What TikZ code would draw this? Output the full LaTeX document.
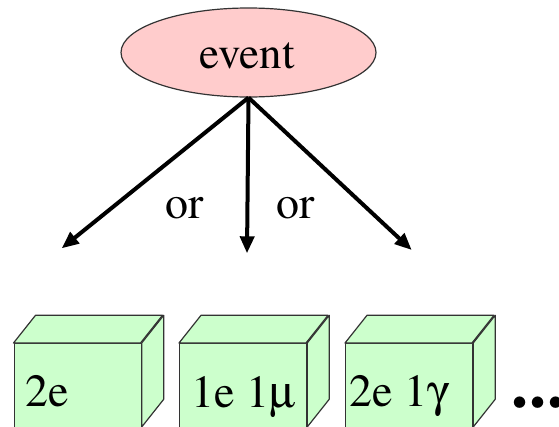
\documentclass[tikz,border=0pt]{standalone}
\usepackage[T1]{fontenc}
\usepackage{mathptmx}
\usepackage[Symbol]{upgreek}
\usetikzlibrary{shapes.geometric,arrows.meta}
\definecolor{evpink}{HTML}{FFCCCC}
\definecolor{boxgreen}{HTML}{CCFFCC}
\definecolor{edgegray}{HTML}{333333}
\begin{document}
\begin{tikzpicture}[x=1pt,y=-1pt,
  lbl/.style={font=\rmfamily\fontsize{46}{50}\selectfont, inner sep=0pt, anchor=base west},
  arr/.style={line width=4pt, -{Triangle[length=17pt,width=14pt]}},
  face/.style={fill=boxgreen, draw=edgegray, line width=1.2pt, line join=round},
  front/.style={face, rectangle, minimum width=127pt, minimum height=84pt, inner sep=0pt, anchor=north west}]
\useasboundingbox (0,0) rectangle (559,426);
\clip (0,0) rectangle (559,426);
% event
\node[ellipse, fill=evpink, draw=edgegray, line width=1.2pt, minimum width=255pt, minimum height=89pt, inner sep=0pt] (ev) at (248.5,52.5) {};
\node[lbl, anchor=base, font=\rmfamily\fontsize{45}{50}\selectfont] (evt) at (247,68) {event};
% arrows
\coordinate (tipL) at (61.7,248.3);
\coordinate (tipM) at (247,253.3);
\coordinate (tipR) at (411.7,250);
\draw[arr] (ev.south) -- (tipL);
\draw[arr] (ev.south) -- (tipM);
\draw[arr] (ev.south) -- (tipR);
\node[lbl] (or1) at (165.3,218) {or};
\node[lbl] (or2) at (275.8,218) {or};
% boxes
\foreach \n/\x in {b1/13.5, b2/179, b3/345}{
  \node[front] (\n) at (\x,343) {};
  \draw[face] (\n.north west) -- ++(22,-27.7) -- ++(127,0) -- ++(-22,27.7) -- cycle;
  \draw[face] (\n.north east) -- ++(22,-27.7) -- ++(0,84) -- ++(-22,27.7) -- cycle;
}
\node[lbl] (t1) at (24.8,406) {2e};
\node[lbl] (t2) at (191.7,407) {1e 1$\upmu$};
\node[lbl] (t3) at (349.7,406) {2e 1$\upgamma$};
\node[font=\rmfamily\fontsize{68}{70}\selectfont\bfseries, inner sep=0pt, anchor=base west] (dots) at (511,407.4) {.\kern1pt.\kern1pt.};
\end{tikzpicture}
\end{document}
